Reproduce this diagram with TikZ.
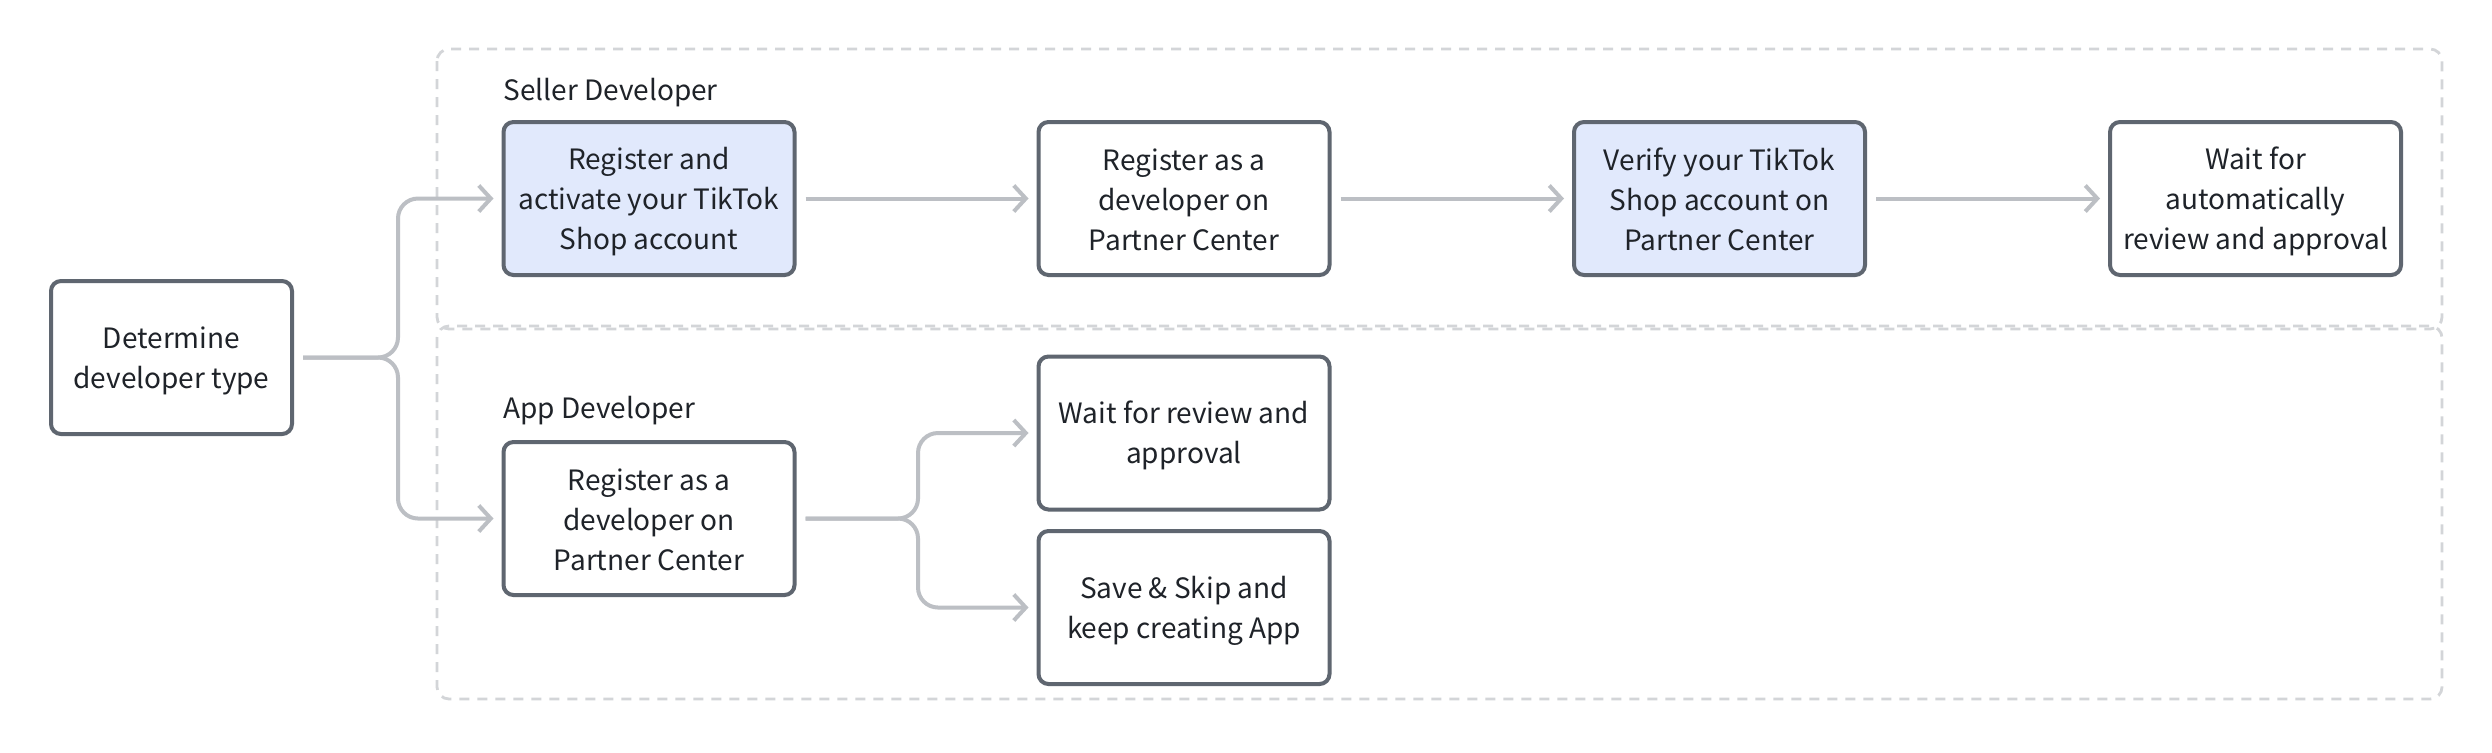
\documentclass[tikz,border=0pt]{standalone}
\usepackage{fontspec}
\setmainfont{Noto Sans CJK SC}
\usetikzlibrary{arrows.meta}
\definecolor{boxline}{HTML}{5F6670}
\definecolor{boxfill}{HTML}{E1E9FC}
\definecolor{txtc}{HTML}{1F2329}
\definecolor{connc}{HTML}{BCBFC4}
\definecolor{grpc}{HTML}{D3D5D8}
\newcommand{\ls}{\rule[-2.5pt]{0pt}{16.5pt}}
\begin{document}
\begin{tikzpicture}[x=0.5pt,y=-0.5pt,
  stepbox/.style={draw=boxline, line width=2pt, rounded corners=5pt, fill=white,
    minimum width=145.5pt, minimum height=76.5pt, align=center, text=txtc,
    font=\fontsize{14pt}{20pt}\selectfont, inner sep=0pt},
  bluebox/.style={stepbox, fill=boxfill},
  lbl/.style={text=txtc, font=\fontsize{14pt}{20pt}\selectfont, inner sep=0pt, anchor=base west},
  conn/.style={draw=connc, line width=2pt, rounded corners=10pt,
    -{Straight Barb[length=6pt,width=13pt]}, shorten >=4pt, shorten <=4.5pt},
  grp/.style={draw=grpc, line width=1.4pt, dash pattern=on 5pt off 4pt, rounded corners=6pt}
]
\fill[white] (0,0) rectangle (2492,752);
% group containers
\draw[grp] (437,49) rectangle (2442,329);
\draw[grp] (437,326) rectangle (2442,699);
% labels
\node[lbl] (lseller) at (503,100) {Seller Developer};
\node[lbl] (lapp) at (503,418) {App Developer};
% nodes
\node[stepbox, minimum width=120.5pt] (det) at (171.5,357.5) {\ls Determine\\\ls developer type};
\node[bluebox] (b1) at (649,198.5) {\ls Register and\\\ls activate your TikTok\\\ls Shop account};
\node[stepbox] (b2) at (1184,198.5) {\ls Register as a\\\ls developer on\\\ls Partner Center};
\node[bluebox] (b3) at (1719.5,198.5) {\ls Verify your TikTok\\\ls Shop account on\\\ls Partner Center};
\node[stepbox] (b4) at (2255.5,198.5) {\ls Wait for\\\ls automatically\\\ls review and approval};
\node[stepbox] (b5) at (649,518.5) {\ls Register as a\\\ls developer on\\\ls Partner Center};
\node[stepbox] (b6) at (1184,433) {\ls Wait for review and\\\ls approval};
\node[stepbox] (b7) at (1184,607.5) {\ls Save \& Skip and\\\ls keep creating App};
% junctions
\coordinate (j1) at (398,357.5);
\coordinate (j2) at (918,518.5);
% connectors
\draw[conn] (det.east) -- (j1) |- (b1.west);
\draw[conn] (det.east) -- (j1) |- (b5.west);
\draw[conn] (b1) -- (b2);
\draw[conn] (b2) -- (b3);
\draw[conn] (b3) -- (b4);
\draw[conn] (b5.east) -- (j2) |- (b6.west);
\draw[conn] (b5.east) -- (j2) |- (b7.west);
\end{tikzpicture}
\end{document}
